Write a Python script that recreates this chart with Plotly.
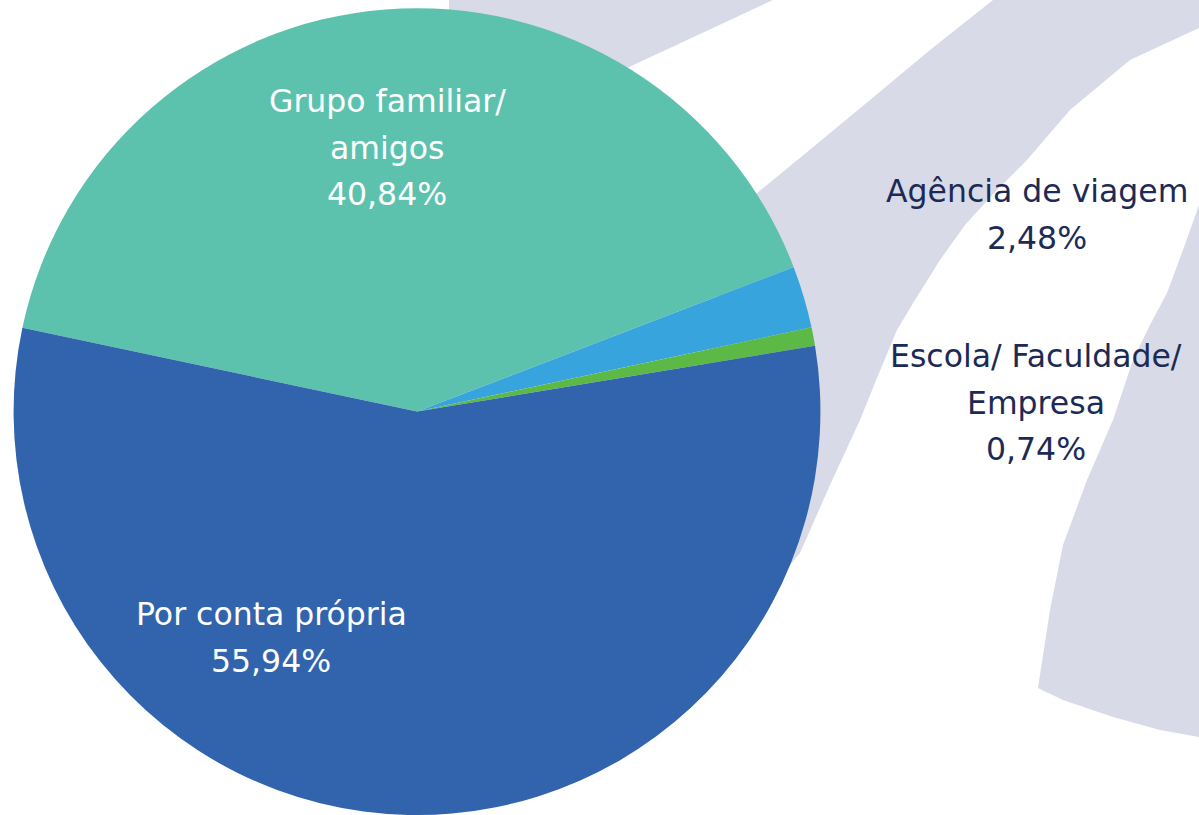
import plotly.graph_objects as go

# ---- data ----
categories = ["Grupo familiar/ amigos", "Agência de viagem",
              "Escola/ Faculdade/ Empresa", "Por conta própria"]
values = [40.84, 2.48, 0.74, 55.94]
label_lines = [["Grupo familiar/", "amigos"], ["Agência de viagem"],
               ["Escola/ Faculdade/", "Empresa"], ["Por conta própria"]]

# ---- styles ----
colors = ["#5dc2ad", "#38a4dd", "#5cb946", "#3264ae"]
label_pos = [(387, 101), (1037, 191), (1036, 356), (271, 614)]  # pixel, first line
label_colors = ["#ffffff", "#1c2b55", "#1c2b55", "#ffffff"]
LINE_H = 46.7
FONT = "DejaVu Sans"
FSIZE = 31.5

W, H = 1199, 815
BAND = "#d8dae7"


def px(x, y):
    return x / W, 1 - y / H


def path(points):
    pts = [px(x, y) for x, y in points]
    s = "M {:.5f},{:.5f} ".format(*pts[0])
    s += " ".join("L {:.5f},{:.5f}".format(*p) for p in pts[1:])
    return s + " Z"


band_a = [(449, 0), (773, 0), (700, 34), (627, 68), (560, 120), (449, 60)]
band_b = [(993, 0), (1199, 0), (1199, 28), (1130, 60), (1070, 110), (1027, 160),
          (997, 190), (965, 225), (940, 260), (915, 300), (897, 330), (877, 378),
          (860, 420), (830, 485), (800, 553), (760, 600), (700, 400), (730, 230),
          (757, 193), (812, 148), (870, 100), (930, 50)]
band_c = [(1199, 205), (1183, 250), (1167, 293), (1150, 325), (1133, 360),
          (1113, 420), (1087, 480), (1063, 545), (1050, 610), (1038, 688),
          (1063, 700), (1113, 717), (1160, 730), (1199, 737)]

shapes = [dict(type="path", path=path(b), xref="paper", yref="paper",
               fillcolor=BAND, line=dict(width=0), layer="below")
          for b in (band_a, band_b, band_c)]

cx, cy, r = 417, 412, 404
fig = go.Figure(go.Pie(
    labels=categories, values=values, sort=False, direction="clockwise",
    rotation=-78, marker=dict(colors=colors, line=dict(width=0)),
    textinfo="none", hoverinfo="none", showlegend=False,
    domain=dict(x=[(cx - r) / W, (cx + r) / W], y=[0, 0.99]),
))

annotations = []
for lines, v, (x0, y0), col in zip(label_lines, values, label_pos, label_colors):
    texts = lines + [f"{v:.2f}".replace(".", ",") + "%"]
    for i, t in enumerate(texts):
        ax, ay = px(x0, y0 + i * LINE_H)
        annotations.append(dict(x=ax, y=ay, xref="paper", yref="paper", text=t,
                                showarrow=False, xanchor="center", yanchor="middle",
                                font=dict(family=FONT, size=FSIZE, color=col)))

fig.update_layout(width=W, height=H, margin=dict(l=0, r=0, t=0, b=0),
                  paper_bgcolor="white", plot_bgcolor="white",
                  shapes=shapes, annotations=annotations)
fig.write_html("out.html", config={"displayModeBar": False},
               post_script="document.body.style.margin='0';document.body.style.overflow='hidden';")
